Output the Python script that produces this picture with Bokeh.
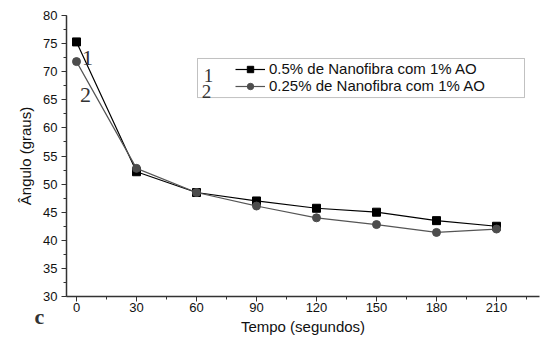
from bokeh.plotting import figure
from bokeh.models import Legend, LegendItem, Label, BoxAnnotation, SingleIntervalTicker, Range1d, Title
from bokeh.embed import file_html
from bokeh.resources import INLINE

tempo = [0, 30, 60, 90, 120, 150, 180, 210]
serie1 = [75.3, 52.2, 48.5, 47.0, 45.7, 45.0, 43.5, 42.5]
serie2 = [71.8, 52.8, 48.5, 46.1, 44.0, 42.8, 41.4, 42.0]
nomes = ["0.5% de Nanofibra com 1% AO", "0.25% de Nanofibra com 1% AO"]

p = figure(width=547, height=341, x_range=Range1d(-5, 231.5), y_range=Range1d(30, 80),
           output_backend="svg", toolbar_location=None,
           min_border_left=66, min_border_top=15, min_border_right=8, min_border_bottom=45)
p.outline_line_color = None
p.xgrid.visible = False
p.ygrid.visible = False

p.xaxis.ticker = SingleIntervalTicker(interval=30, num_minor_ticks=2)
p.yaxis.ticker = SingleIntervalTicker(interval=5, num_minor_ticks=2)
for ax in (p.xaxis, p.yaxis):
    ax.axis_line_color = "#333333"
    ax.axis_line_width = 1.5
    ax.major_tick_line_color = "#333333"
    ax.minor_tick_line_color = "#333333"
    ax.major_tick_out = 5
    ax.major_tick_in = 0
    ax.minor_tick_out = 3
    ax.minor_tick_in = 0
    ax.major_label_text_font = "Liberation Sans"
    ax.major_label_text_font_size = "13px"
    ax.major_label_text_color = "#111111"
    ax.axis_label_text_font = "Liberation Sans"
    ax.axis_label_text_font_size = "15px"
    ax.axis_label_text_font_style = "normal"
    ax.axis_label_text_color = "#111111"
p.xaxis.axis_label = "Tempo (segundos)"
p.yaxis.axis_label = "Ângulo (graus)"
p.xaxis.major_label_standoff = 1
p.yaxis.major_label_standoff = 4
p.xaxis.axis_label_standoff = 3
p.yaxis.axis_label_standoff = 6

l1 = p.line(tempo, serie1, line_color="black", line_width=1.2)
m1 = p.scatter(tempo, serie1, marker="square", size=8, fill_color="black", line_color="black")
l2 = p.line(tempo, serie2, line_color="#555555", line_width=1.2)
m2 = p.scatter(tempo, serie2, marker="circle", size=8, fill_color="#4d4d4d", line_color="#4d4d4d")

box = BoxAnnotation(left=60.5, right=224, bottom=65.4, top=72.35, fill_alpha=0,
                    line_color="#333333", line_width=1)
p.add_layout(box)

legend = Legend(items=[LegendItem(label=nomes[0], renderers=[l1, m1]),
                       LegendItem(label=nomes[1], renderers=[l2, m2])],
                location=(165, 198), border_line_alpha=0, background_fill_alpha=0,
                padding=4, spacing=0, glyph_width=30, glyph_height=16, label_height=16,
                label_standoff=4, label_text_font="Liberation Sans", label_text_font_size="15px",
                label_text_color="#111111", margin=0)
p.add_layout(legend)

for txt, x, y, size in [("1", 5.5, 72.5, "22px"), ("2", 4.5, 65.8, "22px"),
                        ("1", 66, 69.3, "19px"), ("2", 65, 66.5, "19px")]:
    p.add_layout(Label(x=x, y=y, text=txt, text_font="Liberation Serif", text_font_size=size,
                       text_align="center", text_baseline="middle", text_color="#333333"))

p.add_layout(Title(text="c", align="left", vertical_align="top", offset=-32, standoff=-67,
                   text_font="Liberation Serif", text_font_size="22px",
                   text_font_style="bold", text_color="#333333"), "below")

open("out.html", "w").write(file_html(p, INLINE))
